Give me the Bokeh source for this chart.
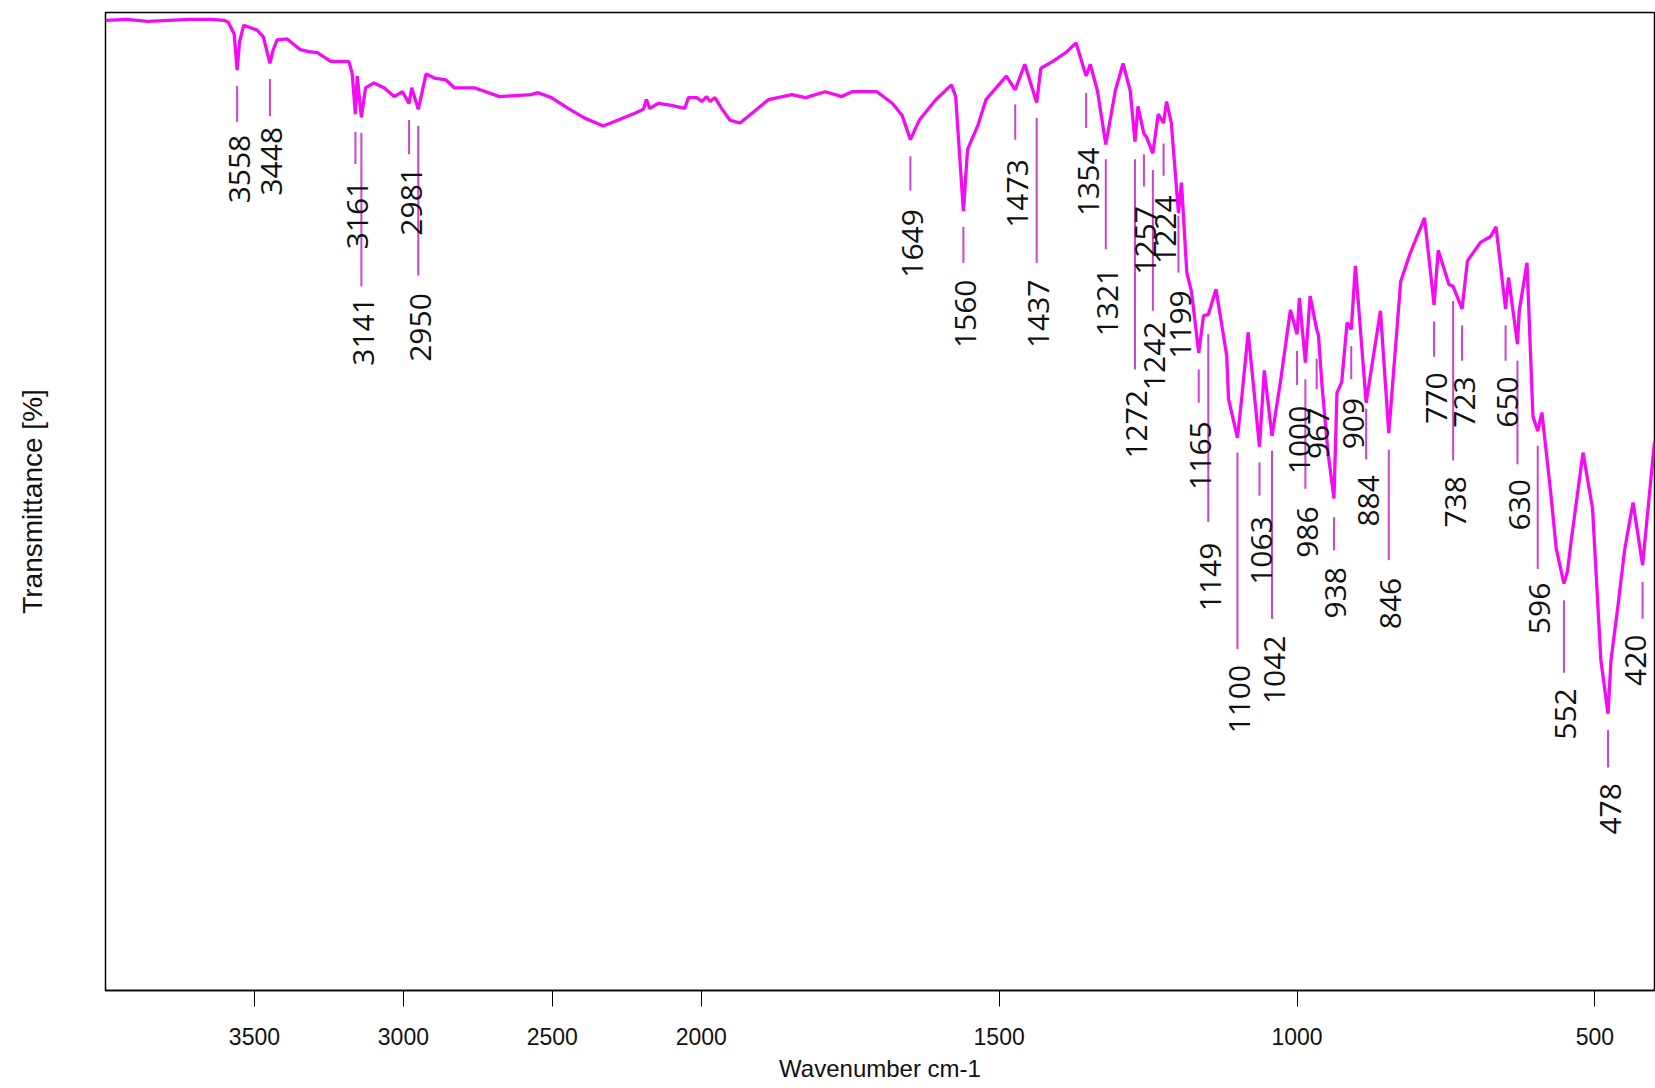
import numpy as np
from bokeh.plotting import figure
from bokeh.models import ColumnDataSource, FixedTicker, Range1d
from bokeh.core.properties import value
from bokeh.embed import file_html
from bokeh.resources import INLINE

# ---------------- data ----------------
wavenumber = [4000, 3929, 3858, 3787, 3716, 3645, 3602, 3588, 3568, 3558, 3550, 3536,
              3491, 3470, 3448, 3438, 3424, 3390, 3346, 3318, 3289, 3244, 3183, 3172,
              3161, 3155, 3141, 3127, 3099, 3065, 3031, 3003, 2981, 2972, 2950, 2924,
              2896, 2857, 2829, 2762, 2677, 2571, 2548, 2503, 2447, 2391, 2329, 2279,
              2223, 2194, 2184, 2173, 2145, 2100, 2055, 2043, 2015, 1999, 1991, 1985,
              1977, 1966, 1952, 1935, 1921, 1887, 1848, 1825, 1792, 1764, 1747, 1705,
              1679, 1663, 1649, 1634, 1606, 1580, 1573, 1560, 1553, 1536, 1522, 1488,
              1473, 1457, 1437, 1430, 1410, 1388, 1371, 1354, 1347, 1335, 1321, 1305,
              1292, 1280, 1272, 1267, 1257, 1253, 1242, 1233, 1224, 1219, 1211, 1199,
              1194, 1185, 1177, 1165, 1157, 1149, 1136, 1118, 1115, 1100, 1093, 1082,
              1063, 1055, 1042, 1028, 1011, 1000, 996, 986, 978, 967, 964, 958,
              948, 938, 933, 925, 916, 909, 902, 884, 860, 846, 826, 810,
              786, 770, 763, 745, 738, 723, 714, 692, 675, 666, 650, 645,
              630, 627, 614, 604, 596, 589, 574, 565, 552, 546, 540, 520,
              504, 490, 478, 473, 461, 450, 436, 420, 400]
transmittance = [99.2, 99.3, 99.1, 99.2, 99.3, 99.3, 99.2, 99.0, 97.8, 94.1, 97.0, 98.7,
                 98.2, 97.5, 94.8, 96.1, 97.2, 97.3, 96.2, 96.0, 95.9, 95.0, 95.0, 93.8,
                 89.6, 93.5, 89.3, 92.3, 92.8, 92.3, 91.4, 91.9, 90.7, 92.3, 90.1, 93.7,
                 93.3, 93.1, 92.3, 92.3, 91.4, 91.6, 91.8, 91.3, 90.2, 89.2, 88.4, 89.0,
                 89.7, 90.1, 91.1, 90.2, 90.7, 90.5, 90.2, 91.3, 91.3, 90.9, 91.4, 90.9,
                 91.3, 90.2, 89.0, 88.7, 89.4, 91.1, 91.6, 91.3, 91.9, 91.4, 91.9, 91.9,
                 90.7, 89.5, 87.0, 89.0, 91.1, 92.6, 91.4, 79.7, 86.0, 88.4, 91.1, 93.5,
                 92.1, 94.7, 90.8, 94.3, 95.0, 95.9, 96.9, 93.5, 94.7, 92.0, 86.5, 92.0,
                 94.8, 92.0, 86.8, 90.4, 87.6, 87.3, 85.6, 89.6, 88.7, 90.9, 88.7, 79.5,
                 82.6, 73.4, 71.4, 65.2, 69.0, 69.1, 71.7, 64.9, 60.5, 56.5, 60.5, 67.3,
                 55.6, 63.4, 56.7, 62.2, 69.6, 67.1, 70.8, 64.2, 71.0, 67.6, 67.0, 61.8,
                 55.0, 50.3, 61.1, 62.2, 68.3, 67.6, 74.1, 60.1, 69.5, 57.0, 72.5, 75.4,
                 79.0, 70.1, 75.7, 72.2, 72.0, 69.7, 74.6, 76.5, 77.1, 78.1, 69.7, 72.9,
                 66.1, 69.5, 74.4, 58.7, 57.2, 59.1, 50.8, 45.2, 41.6, 42.9, 45.9, 55.0,
                 49.3, 33.8, 28.3, 33.8, 39.5, 45.1, 49.9, 43.5, 56.1]

peak_wn = [3558, 3448, 3161, 3141, 2981, 2950, 1649, 1560, 1473, 1437, 1354, 1321,
           1272, 1257, 1242, 1224, 1199, 1165, 1149, 1100, 1063, 1042, 1000, 986,
           967, 938, 909, 884, 846, 770, 738, 723, 650, 630, 596, 552, 478, 420]
peak_line_top = [92.5, 93.2, 87.8, 87.7, 89.0, 88.4, 85.3, 78.1, 90.6, 89.2, 91.8, 85.0,
                 85.0, 85.5, 83.9, 86.6, 79.2, 63.5, 67.1, 55.0, 54.0, 55.2, 65.4, 62.5,
                 64.6, 48.4, 65.9, 59.5, 55.3, 68.4, 70.5, 68.0, 68.0, 64.4, 55.7, 39.9,
                 26.6, 41.8]
peak_line_bottom = [88.8, 89.4, 84.5, 72.0, 85.5, 73.1, 81.8, 74.4, 87.0, 74.4, 88.2, 75.8,
                    63.5, 82.2, 69.5, 83.3, 73.4, 60.1, 47.9, 34.9, 50.6, 38.0, 61.9, 51.3,
                    61.5, 45.0, 62.5, 54.3, 44.0, 64.8, 54.2, 64.4, 64.4, 53.8, 43.1, 32.5,
                    22.8, 38.0]
peak_label_top = [87.5, 88.3, 82.8, 70.9, 84.2, 71.3, 79.9, 72.7, 85.0, 72.7, 86.2, 73.9,
                  61.4, 80.2, 68.4, 81.3, 71.6, 58.2, 45.8, 33.3, 48.5, 36.3, 59.8, 49.5,
                  59.6, 43.3, 60.6, 52.7, 42.2, 63.2, 52.6, 62.8, 62.8, 52.3, 41.7, 30.9,
                  21.2, 36.4]
peak_label = [str(w) for w in peak_wn]

tick_values = [3500, 3000, 2500, 2000, 1500, 1000, 500]
x_limits = [4000, 400]
y_limits = [0, 100]
x_title = "Wavenumber cm-1"
y_title = "Transmittance [%]"


def axis_pos(wn):
    """OPUS-style x axis: the 4000-2000 cm-1 part is compressed by a factor 2."""
    wn = np.asarray(wn, dtype=float)
    return np.where(wn >= 2000, (4000 - wn) / 2.0, 1000 + (2000 - wn))


x0, x1 = [float(v) for v in axis_pos(x_limits)]
peak_u = axis_pos(peak_wn)
# labels sit just right of their marker line; the last one is nudged inward
# so that it stays inside the plot edge
label_dx = np.where(peak_u > x1 - 40, -7, 2)

spec = ColumnDataSource(dict(wn=wavenumber, u=axis_pos(wavenumber), t=transmittance))
peaks = ColumnDataSource(dict(wn=peak_wn, u=peak_u, top=peak_line_top,
                              bottom=peak_line_bottom, label_y=peak_label_top,
                              label=peak_label, dx=label_dx))

p = figure(width=1655, height=1088, x_range=Range1d(x0, x1),
           y_range=Range1d(*y_limits), output_backend="svg", toolbar_location=None,
           min_border_left=105, min_border_right=1, min_border_top=12,
           min_border_bottom=98)
p.xgrid.visible = False
p.ygrid.visible = False
p.outline_line_color = "black"
p.outline_line_width = 1.5
p.background_fill_color = "white"
p.border_fill_color = "white"

# x axis
tick_u = [int(round(v)) for v in axis_pos(tick_values)]
ax = p.xaxis[0]
ax.ticker = FixedTicker(ticks=tick_u)
ax.major_label_overrides = {u: str(t) for u, t in zip(tick_u, tick_values)}
ax.major_tick_out = 16
ax.major_tick_in = 0
ax.minor_tick_out = 0
ax.minor_tick_in = 0
ax.axis_line_width = 1.5
ax.major_tick_line_width = 1
ax.major_label_text_font = "Liberation Sans"
ax.major_label_text_font_size = "23px"
ax.major_label_text_color = "#111111"
ax.major_label_standoff = 21
ax.axis_label = x_title
ax.axis_label_text_font = "Liberation Sans"
ax.axis_label_text_font_size = "24px"
ax.axis_label_text_font_style = "normal"
ax.axis_label_text_color = "#111111"
ax.axis_label_standoff = 7

# y axis: title only
ay = p.yaxis[0]
ay.ticker = FixedTicker(ticks=[])
ay.major_tick_out = 0
ay.major_tick_in = 0
ay.minor_tick_out = 0
ay.minor_tick_in = 0
ay.axis_line_color = None
ay.major_label_text_font_size = "0px"
ay.axis_label = y_title
ay.axis_label_text_font = "Liberation Sans"
ay.axis_label_text_font_size = "28px"
ay.axis_label_text_font_style = "normal"
ay.axis_label_text_color = "#111111"
ay.axis_label_standoff = 58

p.line(x="u", y="t", source=spec, line_color="#F50AF5", line_width=3.3)
p.segment(x0="u", y0="top", x1="u", y1="bottom", source=peaks,
          line_color="#CC44CC", line_width=2)
p.text(x="u", y="label_y", text="label", source=peaks, angle=np.pi / 2,
       text_align="right", text_baseline="middle", x_offset="dx",
       text_font=value("Open Sans"), text_font_size="30px", text_color="#111111")

open("out.html", "w").write(file_html(p, INLINE))
